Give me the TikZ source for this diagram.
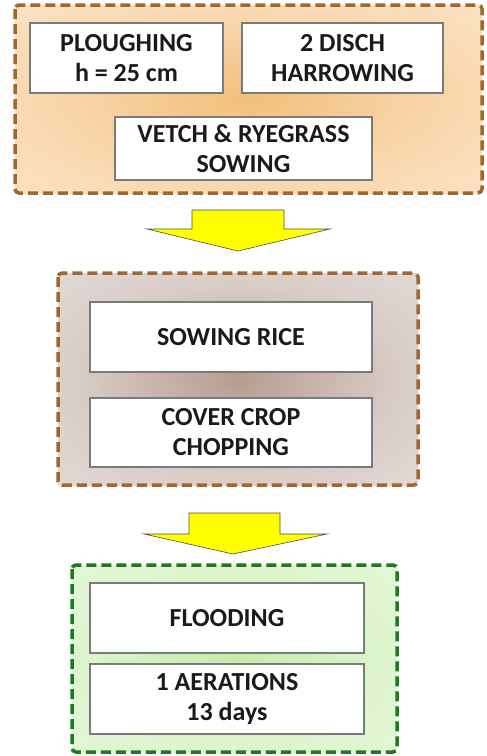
\documentclass[tikz,border=0pt]{standalone}
\usepackage{fontspec}
\setmainfont{Carlito}
\usetikzlibrary{shadows}
\definecolor{brownline}{HTML}{A0672F}
\definecolor{greenline}{HTML}{1D7A1D}
\definecolor{boxline}{HTML}{7A7A7A}
\definecolor{txt}{HTML}{1A1A1A}
\definecolor{arrowfill}{HTML}{FFFF00}
% soft glows for the three stage panels
\pgfdeclareradialshading{orangeglow}{\pgfpoint{0bp}{0bp}}{%
  color(0bp)=(rgb,255:red,243;green,190;blue,124);
  color(20bp)=(rgb,255:red,248;green,214;blue,170);
  color(50bp)=(rgb,255:red,252;green,238;blue,222)}
\pgfdeclareradialshading{brownglow}{\pgfpoint{0bp}{0bp}}{%
  color(0bp)=(rgb,255:red,182;green,156;blue,144);
  color(22bp)=(rgb,255:red,216;green,204;blue,198);
  color(50bp)=(rgb,255:red,236;green,231;blue,229)}
\pgfdeclareradialshading{greenglow}{\pgfpoint{0bp}{0bp}}{%
  color(0bp)=(rgb,255:red,196;green,236;blue,168);
  color(22bp)=(rgb,255:red,220;green,244;blue,204);
  color(50bp)=(rgb,255:red,234;green,249;blue,226)}
\tikzset{
  group/.style={line width=3.5pt, dash pattern=on 10pt off 5pt, rounded corners=4pt},
  stepbox/.style={draw=boxline, line width=1.3pt, fill=white, align=center,
    font=\fontsize{26}{30}\selectfont\bfseries, text=txt, inner sep=0pt,
    drop shadow={shadow xshift=1pt, shadow yshift=-1.2pt, fill=black!35, opacity=0.6}},
  blockarrow/.style={fill=arrowfill, draw=black!70, line width=0.6pt, line join=miter}
}
\begin{document}
\begin{tikzpicture}[x=1pt,y=-1pt]
\useasboundingbox (0,0) rectangle (487,756);

% stage 1: soil preparation
\shade[shading=orangeglow] (15,5) rectangle (482,193);
\draw[group, draw=brownline] (15,5) rectangle (482,193);
\node[stepbox, minimum width=193pt, minimum height=70pt] (plough) at (126.5,58)
  {PLOUGHING\\h = 25 cm};
\node[stepbox, minimum width=201pt, minimum height=70pt] (disch) at (342.5,58)
  {2 DISCH\\HARROWING};
\node[stepbox, minimum width=257pt, minimum height=63pt] (vetch) at (243.5,148.5)
  {VETCH \& RYEGRASS\\SOWING};

% stage 2: sowing
\shade[shading=brownglow] (58,273) rectangle (418,485);
\draw[group, draw=brownline] (58,273) rectangle (418,485);
\node[stepbox, minimum width=282pt, minimum height=70pt] (rice) at (231,337)
  {SOWING RICE};
\node[stepbox, minimum width=282pt, minimum height=69pt] (chop) at (231,432.5)
  {COVER CROP\\CHOPPING};

% stage 3: water management
\shade[shading=greenglow] (72,565) rectangle (397,752);
\draw[group, draw=greenline] (72,565) rectangle (397,752);
\node[stepbox, minimum width=274pt, minimum height=70pt] (flood) at (227,618)
  {FLOODING};
\node[stepbox, minimum width=274pt, minimum height=70pt] (aer) at (227,699)
  {1 AERATIONS\\13 days};

% block arrows between the stages
\coordinate (a1) at (238,210);
\draw[blockarrow] (a1) ++(-46,0) -- ++(92,0) -- ++(0,19) -- (330,229) -- (238,251)
  -- (147,229) -- (192,229) -- cycle;
\coordinate (a2) at (234,513);
\draw[blockarrow] (a2) ++(-45,0) -- ++(91,0) -- ++(0,21) -- (327,534) -- (233,554)
  -- (144,534) -- (189,534) -- cycle;
\end{tikzpicture}
\end{document}
